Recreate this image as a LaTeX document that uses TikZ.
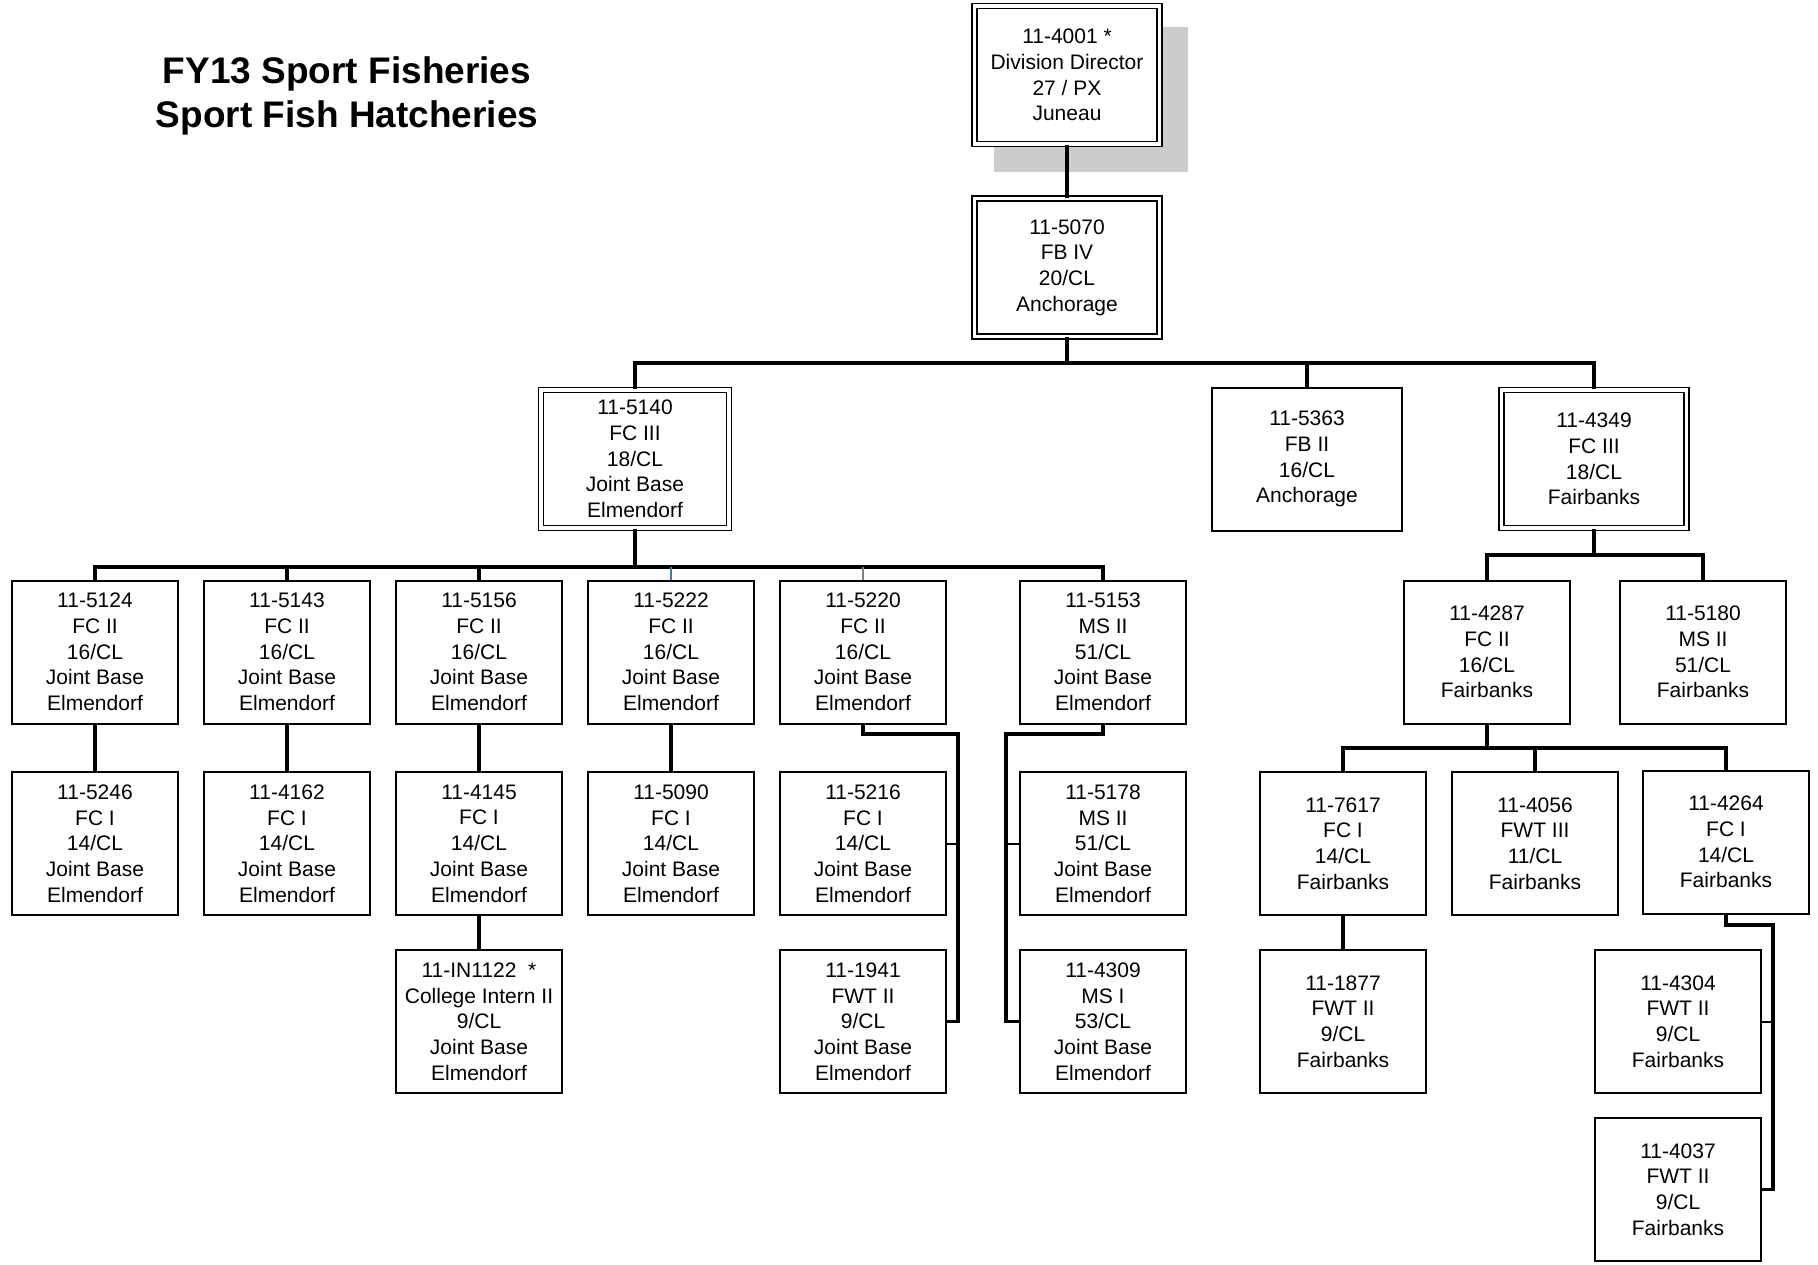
\documentclass[tikz,border=0pt]{standalone}
\usepackage{fontspec}
\setmainfont{Liberation Sans}
\begin{document}
\begin{tikzpicture}[x=1pt,y=-1pt,
  bx/.style={draw, line width=2pt, fill=white, align=center, inner sep=0pt,
    minimum width=166pt, minimum height=143pt, font=\fontsize{21}{25.7}\selectfont},
  wbx/.style={bx, minimum width=190pt},
  dbx/.style={bx, double, double distance=3.2pt, line width=1.6pt, minimum width=185pt, minimum height=138pt},
  conn/.style={line width=3.4pt},
  tickln/.style={line width=2pt},
  ttl/.style={font=\fontsize{37}{44}\selectfont\bfseries, align=center}]
\useasboundingbox (0,0) rectangle (1818,1265);
\fill[white] (0,0) rectangle (1818,1265);

\node[ttl] (title) at (347,95.5) {FY13 Sport Fisheries\\Sport Fish Hatcheries};

% shadow
\fill[gray!40] (994,27) rectangle (1188,172);

\node[dbx] (a4001) at (1067,75) {11-4001 *\\Division Director\\27 / PX\\Juneau};
\node[dbx] (a5070) at (1067,267.5) {11-5070\\FB IV\\20/CL\\Anchorage};
\node[dbx, minimum width=188pt] (a5140) at (635,459) {11-5140\\FC III\\18/CL\\Joint Base\\Elmendorf};
\node[wbx] (a5363) at (1307,459) {11-5363\\FB II\\16/CL\\Anchorage};
\node[dbx] (a4349) at (1594,459) {11-4349\\FC III\\18/CL\\Fairbanks};

\node[bx] (a5124) at (95,652) {11-5124\\FC II\\16/CL\\Joint Base\\Elmendorf};
\node[bx] (a5143) at (287,652) {11-5143\\FC II\\16/CL\\Joint Base\\Elmendorf};
\node[bx] (a5156) at (479,652) {11-5156\\FC II\\16/CL\\Joint Base\\Elmendorf};
\node[bx] (a5222) at (671,652) {11-5222\\FC II\\16/CL\\Joint Base\\Elmendorf};
\node[bx] (a5220) at (863,652) {11-5220\\FC II\\16/CL\\Joint Base\\Elmendorf};
\node[bx] (a5153) at (1103,652) {11-5153\\MS II\\51/CL\\Joint Base\\Elmendorf};
\node[bx] (a4287) at (1487,652) {11-4287\\FC II\\16/CL\\Fairbanks};
\node[bx] (a5180) at (1703,652) {11-5180\\MS II\\51/CL\\Fairbanks};

\node[bx] (a5246) at (95,843.5) {11-5246\\FC I\\14/CL\\Joint Base\\Elmendorf};
\node[bx] (a4162) at (287,843.5) {11-4162\\FC I\\14/CL\\Joint Base\\Elmendorf};
\node[bx] (a4145) at (479,843.5) {11-4145\\FC I\\14/CL\\Joint Base\\Elmendorf};
\node[bx] (a5090) at (671,843.5) {11-5090\\FC I\\14/CL\\Joint Base\\Elmendorf};
\node[bx] (a5216) at (863,843.5) {11-5216\\FC I\\14/CL\\Joint Base\\Elmendorf};
\node[bx] (a5178) at (1103,843.5) {11-5178\\MS II\\51/CL\\Joint Base\\Elmendorf};
\node[bx] (a7617) at (1343,843.5) {11-7617\\FC I\\14/CL\\Fairbanks};
\node[bx] (a4056) at (1535,843.5) {11-4056\\FWT III\\11/CL\\Fairbanks};
\node[bx] (a4264) at (1726,842) {11-4264\\FC I\\14/CL\\Fairbanks};

\node[bx] (aIN1122) at (479,1021.5) {11-IN1122 \ *\\College Intern II\\9/CL\\Joint Base\\Elmendorf};
\node[bx] (a1941) at (863,1021.5) {11-1941\\FWT II\\9/CL\\Joint Base\\Elmendorf};
\node[bx] (a4309) at (1103,1021.5) {11-4309\\MS I\\53/CL\\Joint Base\\Elmendorf};
\node[bx] (a1877) at (1343,1021.5) {11-1877\\FWT II\\9/CL\\Fairbanks};
\node[bx] (a4304) at (1678,1021.5) {11-4304\\FWT II\\9/CL\\Fairbanks};
\node[bx] (a4037) at (1678,1189.5) {11-4037\\FWT II\\9/CL\\Fairbanks};

% bus coordinates
\coordinate (b1) at (0,363);
\coordinate (b2) at (0,567);
\coordinate (b3) at (0,555);
\coordinate (b4) at (0,748);
\coordinate (r5220) at (958,734);
\coordinate (r5153) at (1006,734);
\coordinate (r4264) at (1773,925);

% connectors
\draw[conn] (a4001.south) -- (a5070.north);
\draw[conn] (a5070.south) -- (a5070.south |- b1);
\draw[conn] (a5140.north) |- (a4349.north |- b1) -- (a4349.north);
\draw[conn] (a5363.north) -- (a5363.north |- b1);

\draw[conn] (a5140.south) -- (a5140.south |- b2);
\draw[conn] (a5124.north) |- (a5153.north |- b2) -- (a5153.north);
\draw[conn] (a5143.north) -- (a5143.north |- b2);
\draw[conn] (a5156.north) -- (a5156.north |- b2);
\draw[line width=1.2pt, color={rgb,255:red,68;green,114;blue,196}] (a5222.north) -- (a5222.north |- b2);
\draw[line width=1.2pt, gray] (a5220.north) -- (a5220.north |- b2);

\draw[conn] (a5124.south) -- (a5246.north);
\draw[conn] (a5143.south) -- (a4162.north);
\draw[conn] (a5156.south) -- (a4145.north);
\draw[conn] (a5222.south) -- (a5090.north);
\draw[conn] (a4145.south) -- (aIN1122.north);

\draw[conn] (a5220.south) |- (r5220) |- (a1941.east);
\draw[tickln] (a5216.east) -- (a5216.east -| r5220);
\draw[conn] (a5153.south) |- (r5153) |- (a4309.west);
\draw[tickln] (a5178.west) -- (a5178.west -| r5153);

\draw[conn] (a4349.south) -- (a4349.south |- b3);
\draw[conn] (a4287.north) |- (a5180.north |- b3) -- (a5180.north);

\draw[conn] (a4287.south) -- (a4287.south |- b4);
\draw[conn] (a7617.north) |- (a4264.north |- b4) -- (a4264.north);
\draw[conn] (a4056.north) -- (a4056.north |- b4);
\draw[conn] (a7617.south) -- (a1877.north);

\draw[conn] (a4264.south) |- (r4264) |- (a4037.east);
\draw[tickln] (a4304.east) -- (a4304.east -| r4264);
\end{tikzpicture}
\end{document}
